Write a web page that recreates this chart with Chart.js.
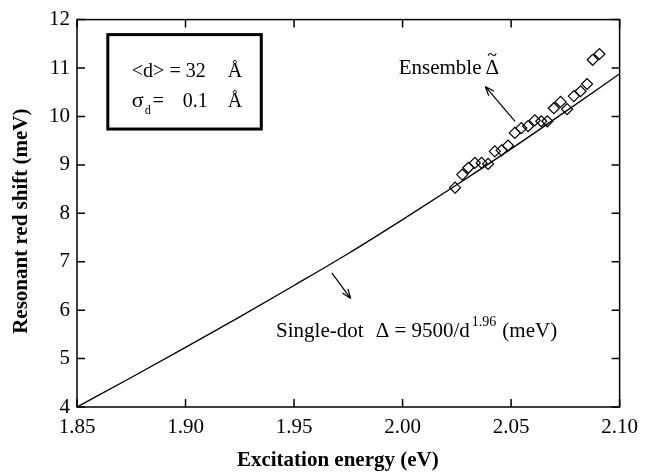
<!DOCTYPE html>
<html><head><meta charset="utf-8">
<script src="https://cdn.jsdelivr.net/npm/chart.js@4.4.1/dist/chart.umd.min.js"></script>
<style>html,body{margin:0;padding:0;background:#fff}#wrap{width:646px;height:474px}</style>
</head><body><div id="wrap"><canvas id="c" width="646" height="474"></canvas></div>
<script>
// Single-dot theoretical curve
const fitEnergy = [1.85, 1.875, 1.90, 1.925, 1.95, 1.975, 2.00, 2.025, 2.05, 2.075, 2.10];
const fitShift  = [4.00, 4.61, 5.23, 5.86, 6.51, 7.17, 7.87, 8.59, 9.33, 10.10, 10.88];
// Ensemble measured points
const dataEnergy = [2.0242, 2.0275, 2.0303, 2.0333, 2.0364, 2.0394, 2.0425, 2.0456, 2.0486, 2.0517, 2.0547, 2.0578, 2.0609, 2.0639, 2.0667, 2.0697, 2.0728, 2.0758, 2.0789, 2.0820, 2.0850, 2.0876, 2.0907];
const dataShift  = [8.53, 8.80, 8.94, 9.04, 9.04, 9.02, 9.28, 9.30, 9.40, 9.66, 9.76, 9.80, 9.92, 9.90, 9.90, 10.17, 10.30, 10.15, 10.42, 10.52, 10.67, 11.17, 11.29];
const xTicks = [1.85, 1.90, 1.95, 2.00, 2.05, 2.10];
const yTicks = [4, 5, 6, 7, 8, 9, 10, 11, 12];

const SERIF = '"Liberation Serif", "Times New Roman", serif';

const frameAndNotes = {
  id: 'frameAndNotes',
  afterDraw(chart) {
    const ctx = chart.ctx;
    const {left, right, top, bottom} = chart.chartArea;
    const xs = chart.scales.x, ys = chart.scales.y;
    const X = v => xs.getPixelForValue(v), Y = v => ys.getPixelForValue(v);
    ctx.save();
    ctx.strokeStyle = '#000';
    ctx.lineWidth = 1.5;
    ctx.strokeRect(left, top, right - left, bottom - top);
    const tl = 8;
    ctx.beginPath();
    xTicks.forEach(v => {
      const p = X(v);
      ctx.moveTo(p, bottom); ctx.lineTo(p, bottom - tl);
      ctx.moveTo(p, top); ctx.lineTo(p, top + tl);
    });
    yTicks.forEach(v => {
      const p = Y(v);
      ctx.moveTo(left, p); ctx.lineTo(left + tl, p);
      ctx.moveTo(right, p); ctx.lineTo(right - tl, p);
    });
    ctx.stroke();

    // Parameter box
    ctx.lineWidth = 3;
    const bx0 = X(1.8642), bx1 = X(1.9349), by0 = Y(11.69), by1 = Y(9.74);
    ctx.strokeRect(bx0, by0, bx1 - bx0, by1 - by0);
    ctx.fillStyle = '#000';
    ctx.textBaseline = 'alphabetic';
    ctx.textAlign = 'left';
    ctx.font = '20px ' + SERIF;
    ctx.fillText('<d> = 32', bx0 + 24, by0 + 42);
    ctx.fillText('Å', bx0 + 120, by0 + 42);
    ctx.font = '22px ' + SERIF;
    ctx.fillText('σ', bx0 + 24, by0 + 72);
    ctx.font = '12px ' + SERIF;
    ctx.fillText('d', bx0 + 37, by0 + 79);
    ctx.font = '20px ' + SERIF;
    ctx.fillText('=', bx0 + 45, by0 + 72);
    ctx.textAlign = 'right';
    ctx.fillText('0.1', bx0 + 100, by0 + 72);
    ctx.textAlign = 'left';
    ctx.fillText('Å', bx0 + 120, by0 + 72);

    function arrow(x0, y0, x1, y1) {
      ctx.lineWidth = 1.2;
      ctx.beginPath();
      ctx.moveTo(x0, y0); ctx.lineTo(x1, y1);
      const a = Math.atan2(y1 - y0, x1 - x0), L = 10, w = 0.35;
      ctx.moveTo(x1, y1); ctx.lineTo(x1 - L * Math.cos(a - w), y1 - L * Math.sin(a - w));
      ctx.moveTo(x1, y1); ctx.lineTo(x1 - L * Math.cos(a + w), y1 - L * Math.sin(a + w));
      ctx.stroke();
    }

    // Ensemble label
    ctx.font = '21px ' + SERIF;
    const ex = X(1.9982), ey = Y(10.87);
    ctx.fillText('Ensemble', ex, ey);
    const ew = ctx.measureText('Ensemble').width;
    const dx = ex + ew + 4;
    ctx.fillText('Δ', dx, ey);
    const dw = ctx.measureText('Δ').width;
    ctx.font = '18px ' + SERIF;
    ctx.textAlign = 'center';
    ctx.fillText('~', dx + dw / 2, ey - 13);
    ctx.textAlign = 'left';
    arrow(X(2.0518), Y(9.90), X(2.0381), Y(10.62));

    // Single-dot label
    const sy = Y(5.44);
    ctx.font = '21px ' + SERIF;
    ctx.fillText('Single-dot', X(1.9417), sy);
    let cx = X(1.9876);
    ctx.fillText('Δ = 9500/d', cx, sy);
    cx += ctx.measureText('Δ = 9500/d').width + 2;
    ctx.font = '14px ' + SERIF;
    ctx.fillText('1.96', cx, sy - 11);
    cx += ctx.measureText('1.96').width + 6;
    ctx.font = '21px ' + SERIF;
    ctx.fillText('(meV)', cx, sy);
    arrow(X(1.9674), Y(6.77), X(1.9761), Y(6.24));
    ctx.restore();
  }
};

new Chart(document.getElementById('c'), {
  data: {
    datasets: [
      {
        type: 'line',
        data: fitEnergy.map((e, i) => ({x: e, y: fitShift[i]})),
        borderColor: '#000', borderWidth: 1.3, pointRadius: 0,
        cubicInterpolationMode: 'monotone', fill: false, order: 2
      },
      {
        type: 'scatter',
        data: dataEnergy.map((e, i) => ({x: e, y: dataShift[i]})),
        pointStyle: 'rectRot', pointRadius: 5.5, borderColor: '#000', borderWidth: 1.2,
        backgroundColor: 'rgba(255,255,255,0)', order: 1
      }
    ]
  },
  options: {
    responsive: false, animation: false, devicePixelRatio: 1,
    layout: {padding: {left: 0, top: 18, right: 24, bottom: 0}},
    plugins: {legend: {display: false}, tooltip: {enabled: false}},
    scales: {
      x: {
        type: 'linear', min: 1.85, max: 2.10,
        afterBuildTicks: s => { s.ticks = xTicks.map(v => ({value: v})); },
        afterFit: s => { s.height = 67; },
        grid: {display: false, drawTicks: false},
        border: {display: false},
        ticks: {color: '#000', font: {family: SERIF, size: 21}, padding: 8, maxRotation: 0,
          callback: v => Number(v).toFixed(2)},
        title: {display: true, text: 'Excitation energy (eV)    ', color: '#000',
          font: {family: SERIF, size: 21, weight: 'bold'}, padding: {top: 0, bottom: 1}}
      },
      y: {
        type: 'linear', min: 4, max: 12,
        afterBuildTicks: s => { s.ticks = yTicks.map(v => ({value: v})); },
        afterFit: s => { s.width = 77; },
        grid: {display: false, drawTicks: false},
        border: {display: false},
        ticks: {color: '#000', font: {family: SERIF, size: 21}, padding: 7,
          callback: v => String(v)},
        title: {display: true, text: 'Resonant red shift (meV)   ', color: '#000',
          font: {family: SERIF, size: 21, weight: 'bold'}, padding: {top: 9, bottom: 0}}
      }
    }
  },
  plugins: [frameAndNotes]
});
</script></body></html>
